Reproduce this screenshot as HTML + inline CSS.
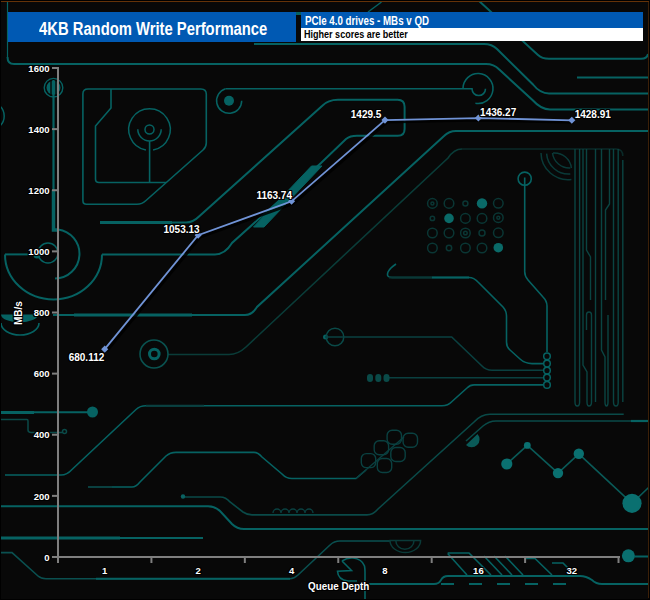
<!DOCTYPE html>
<html><head><meta charset="utf-8">
<style>
html,body{margin:0;padding:0;}
body{width:650px;height:600px;overflow:hidden;background:#080808;position:relative;font-family:"Liberation Sans",sans-serif;}
.abs{position:absolute;}
svg{position:absolute;left:0;top:0;}
.yl{position:absolute;right:600.5px;font-size:9.5px;font-weight:bold;color:#fff;text-shadow:1px 0 #000,-1px 0 #000,0 1px #000,0 -1px #000,1px 1px #000,-1px -1px #000,1px -1px #000,-1px 1px #000;line-height:12px}
.xl{position:absolute;top:564.5px;width:40px;text-align:center;font-size:9.5px;font-weight:bold;color:#fff;text-shadow:1px 0 #000,-1px 0 #000,0 1px #000,0 -1px #000,1px 1px #000,-1px -1px #000,1px -1px #000,-1px 1px #000;line-height:12px}
.dl{position:absolute;font-size:10px;font-weight:bold;color:#fff;white-space:nowrap;text-shadow:1px 0 #000,-1px 0 #000,0 1px #000,0 -1px #000,1px 1px #000,-1px -1px #000,1px -1px #000,-1px 1px #000;line-height:12px}
.t{position:absolute;white-space:nowrap;font-weight:bold;transform-origin:0 0;}
</style></head><body>
<svg width="650" height="600" viewBox="0 0 650 600">
<g fill="none" stroke="#066262" stroke-width="2">
 <!-- title frame -->
 <path d="M7.5,2 V57" stroke-width="1.2"/>
 <path d="M7.5,57 Q7.5,64 14,64 H486 Q494,64 499,69.3 L533,100.5 Q541,109.4 550,109.4 H648"/>
 <path d="M254,44 H484 Q492,44 497,49 L533,84.5 Q540,93.4 549,93.4 H648"/>
 <path d="M296,12 H301 V15 H296 Z" fill="#066262" stroke="none"/>
 <path d="M368,12 L381.5,2" stroke-width="1.5"/>
 <path d="M478,0 L538,55 Q542,58.8 549,58.8 H641 Q647,58.8 648,54"/>
 <path d="M577,77.4 H648"/>
 <!-- left circle + vertical -->
 <circle cx="53.5" cy="87.7" r="9.3" stroke-width="1.4"/>
 <circle cx="53.5" cy="87.7" r="7" fill="#066262" stroke="none"/>
 <path d="M51,80 V96 M56,80 V96" stroke="#080808" stroke-width="1.4"/>
 <path d="M53.5,80 V190" stroke-width="2.2"/>
 <path d="M53.5,190 V230 H58" stroke-width="3.5"/>
 <path d="M0,106 A14,14 0 0 1 0,126" stroke-width="1.5"/>
 <!-- big rect -->
 <path d="M82.9,94 Q82.9,89 88,89 H201 Q206.3,89 206.3,94.3 V143 Q206.3,147 203,150 L146,200.5 Q142,204.3 137,204.3 H86.5 Q82.9,204.3 82.9,200.5 Z" stroke-width="1.6"/>
 <path d="M111,89 V108 L95.5,126 V179 Q95.5,182.5 99,182.5 H166" stroke-width="1.6"/>
 <path d="M149.6,141 V182.6" stroke-width="1.6"/>
 <circle cx="149.5" cy="129.5" r="4.5" stroke-width="1.5"/>
 <path d="M137.8,129.3 A11.7,11.7 0 0 0 161.2,129.3" stroke-width="1.5"/>
 <path d="M145.9,149.9 A20.75,20.75 0 1 1 153.1,149.9" stroke-width="1.5"/>
 <!-- small circle right -->
 <path d="M225.5,88.8 A12.55,12.55 0 1 0 241.7,100.8" stroke-width="1.5"/>
 <circle cx="229" cy="100.8" r="5" fill="#066262" stroke="none"/>
 <path d="M225.5,88.8 H472 A6.5,6.5 0 0 0 485.5,88.8" stroke-width="1.6"/>
 <path d="M463,88.5 A15,15 0 1 1 475.4,103.3" stroke-width="1.6"/>
 <!-- 1429.5 U path -->
 <path d="M100,222.5 H186 Q193,222.5 199,216.5 L322,106 Q328,99.8 338,99.8 H397.6 Q404.6,99.8 404.6,106.8 V129 Q404.6,135.8 397.8,135.8 H357 Q350,135.8 346,139 L321,163 L232,243 Q225,254.4 215,254.4 H102"/>
 <path d="M100,222.5 H172" stroke-width="3"/>
 <path d="M253.5,227 L264,227 L322,166 L311.5,166 Z" fill="#066262" stroke="#066262" stroke-width="1" stroke-linejoin="round"/>
 <!-- diag 3,4 -->
 <path d="M53,315 H245 Q252,315 257,307 L444,136 Q449,131 456,131 H648"/>
 <path d="M74,315 H192" stroke-width="3"/>
 <path d="M168,354.5 H229 Q238,354.5 246,347 L448,158 Q454,149 462,149" stroke="#0a3c38" stroke-width="1.6"/>
 <path d="M462,149 H616 Q622.8,149 622.8,156" stroke="#0a2a28" stroke-width="1.6"/>
 <circle cx="154" cy="354" r="14" stroke="#0a5250" stroke-width="1.6"/>
 <circle cx="154.3" cy="354" r="4.8" stroke-width="3"/>
 <!-- big semicircle left -->
 <path d="M5,254.4 A48.5,45 0 0 0 102,254.4" />
 <path d="M5,254.4 H32" />
 <circle cx="48" cy="253" r="10" stroke-width="1.5"/>
 <circle cx="37" cy="255" r="3.5" fill="#066262" stroke="none"/>
 <path d="M58,229.5 A24.6,24.6 0 0 1 55,278.5" stroke-width="2"/>
 <!-- MB/s half disc -->
 <path d="M1,314.4 H38 A18.5,8 0 0 1 1,314.4 Z" fill="#066262" stroke="none"/>
 <path d="M1,323 A19,12 0 0 0 39,323" stroke-width="1.6"/>
 <!-- ring + vertical right -->
 <circle cx="524.7" cy="178.7" r="6.6" stroke-width="1.6"/>
 <path d="M524.7,177.5 V271 Q524.5,276 528,280 L543,297 Q547,301 547,306 V352" stroke-width="1.6"/>
 <!-- middle right lines -->
 <path d="M396,264 Q390,268 388,272 Q386,277.5 392,277.5 H469 Q474,277.5 478,282 L503,307 Q506.5,311 506.5,316 V342 Q506.5,347 510,350 L520,359 Q525,363.6 532,363.6 H543.5" stroke-width="1.6"/>
 <path d="M389,277.5 H432" stroke="#0a3836" stroke-width="2.2"/>
 <path d="M432,277.5 H469" stroke-width="2.2"/>
 <circle cx="325.5" cy="337" r="2.5" fill="#066262" stroke="none"/>
 <circle cx="335" cy="337" r="8.8" stroke="#0a4a48" stroke-width="1.5"/>
 <path d="M325,337 H451.7 L482,366 Q486,370.2 492,370.2 H543.5" stroke="#0a4040" stroke-width="1.6"/>
 <path d="M388,377.8 H543.5" stroke="#0a4040" stroke-width="1.6"/>
 <g fill="#0a4a48" stroke="none"><rect x="367" y="374" width="6" height="8" rx="3"/><rect x="375.3" y="374" width="6" height="8" rx="3"/><rect x="383.5" y="374" width="6" height="8" rx="3"/></g>
 <g stroke-width="1.5"><circle cx="547" cy="356.2" r="3.3"/><circle cx="547" cy="363.6" r="3.3"/><circle cx="547" cy="370.6" r="3.3"/><circle cx="547" cy="377.6" r="3.3"/><circle cx="547" cy="384.9" r="3.3"/></g>
 <path d="M543.7,384.9 H474 Q470,384.9 467,388 L452,401.5 Q448,405.8 442,405.8 H146 Q140,405.8 136,409.5 L72,469.5 Q67,475 61,475 H5" stroke-width="1.6"/>
 <path d="M146,405.8 H204" stroke="#0a4040"/>
 <!-- dot grid -->
 <g stroke="#0a3634" stroke-width="1.5">
  <circle cx="432.4" cy="203.4" r="4.8"/><circle cx="432.4" cy="203.4" r="1.5"/><circle cx="449" cy="203.4" r="4.8"/><circle cx="465.4" cy="203.4" r="2.5"/><circle cx="498.3" cy="203.3" r="4.8"/>
  <circle cx="432.4" cy="218.4" r="2.2"/><circle cx="465.4" cy="218.4" r="4.8"/><circle cx="482" cy="218.4" r="4.8"/><circle cx="498.3" cy="217.7" r="4.8"/><circle cx="498.3" cy="217.7" r="1.5"/>
  <circle cx="432.4" cy="233" r="4.8"/><circle cx="449" cy="233" r="4.8"/><circle cx="465.4" cy="233" r="4.8"/><circle cx="465.4" cy="233" r="1.8"/><circle cx="482" cy="233" r="3"/><circle cx="498.3" cy="232.8" r="4.8"/>
  <circle cx="432.4" cy="248" r="4.8"/><circle cx="449" cy="248" r="2.7"/><circle cx="465.4" cy="248" r="4.8"/><circle cx="482" cy="248" r="4.8"/>
 </g>
 <g fill="#0a6a68" stroke="none"><circle cx="482" cy="203.4" r="5.2"/><circle cx="449" cy="218.4" r="4.8"/><circle cx="498.3" cy="247.7" r="4.8"/></g>
 <!-- eye arcs -->
 <g stroke="#0a3a38" stroke-width="1.5"><path d="M541,153 A27,27 0 0 0 571.4,179.4"/><path d="M546.6,153.6 A22,22 0 0 0 570.3,174"/><path d="M552.5,153 A17,17 0 0 0 570.3,168"/><path d="M553,153 A17,17 0 0 1 571.4,168"/></g>
 <!-- vertical bus -->
 <g stroke="#0a4442" stroke-width="1.4">
  <path d="M575,149 V402 Q575,406 577.3,406 Q579.6,406 579.6,402 V149"/>
  <path d="M583,149 V365 L587,372 V402 Q587,406 589,406 Q591.5,406 591.5,402 V315 Q591.5,312 589,312 Q586.5,312 586.5,315 V330"/>
  <path d="M586.5,149 V250 L590.5,257 V300"/>
  <path d="M595.5,149 V402"/>
  <path d="M601.5,149 V350 L605,357 V402 Q605,406 606.5,406 Q608,406 608,402 V315"/>
  <path d="M609.5,149 V204 L605.5,210 V300"/>
  <path d="M613.5,149 V402 Q613.5,406 616,406 Q618.2,406 618.2,402 V149"/>
  <path d="M622.8,160 V402"/>
 </g>
 <!-- lower left lines -->
 <path d="M1,412.3 H88" stroke-width="2"/>
 <path d="M1,412.5 H34" stroke-width="3"/>
 <circle cx="92.5" cy="412" r="5.5" fill="#066262" stroke="none"/>
 <path d="M1,419.4 H27 Q28,419.4 28,421 V430 Q28,432.4 31,432.4 H62" stroke="#0a4a48" stroke-width="1.5"/>
 <circle cx="64.5" cy="431.5" r="2" stroke="#0a4a48" stroke-width="1.5"/>
 <path d="M88,487 H132 Q136,487 140,482 L166,456 Q170,452.4 176,452.4 H254 Q258,452.4 262,457 L282,474 Q286,478.5 292,478.5 H356 L366,470" stroke-width="1.6"/>
 <path d="M88,487 H112" stroke="#0a4040"/>
 <!-- pill cluster -->
 <g stroke="#0a4040" stroke-width="1.4">
  <rect x="361.3" y="453.6" width="14.4" height="14" rx="5"/>
  <rect x="374.2" y="440.7" width="14.4" height="14" rx="5"/>
  <rect x="387.1" y="430.2" width="14.4" height="14" rx="5"/>
  <rect x="377.3" y="458.5" width="14.4" height="14" rx="5"/>
  <rect x="390.8" y="447.5" width="14.4" height="14" rx="5"/>
  <rect x="403.1" y="433.3" width="14.4" height="14" rx="5"/>
 </g>
  <path d="M466,441 L483,426 Q489,421 496,421 H648" stroke="#0a4a48" stroke-width="1.6"/>
 <path d="M356,478.5 L404,437" stroke="#0a4040" stroke-width="1.4"/>
 <path d="M631,421 H648" stroke-width="2.2"/>
 <path d="M477.5,434 A7.96,7.96 0 0 1 466,445 Z" fill="#0a5a58" stroke="none"/>
 <!-- zigzag dots -->
 <path d="M506.8,464 L527.3,445.4 L558,473.1 L578.8,453.8 L632,503.3 L648.6,487.5" stroke="#0a5a58" stroke-width="1.6"/>
 <g fill="#0a7070" stroke="none"><circle cx="506.8" cy="464" r="5.6"/><circle cx="527.3" cy="445.4" r="3.4"/><circle cx="558" cy="473.1" r="5.2"/><circle cx="578.8" cy="453.8" r="5.2"/><circle cx="632" cy="503.3" r="9.6"/><circle cx="628.4" cy="555.8" r="6.5"/></g>
 <path d="M634,556.5 H648" stroke-width="2"/>
 <!-- bottom lines -->
 <path d="M1,506.3 H208 Q215,506.3 220,511 L232,524 Q237,529 244,529 H648"/>
 <path d="M183,497 H220 Q226,497 230,502 L243,512 Q247,514.9 252,514.9 H367 Q373,514.9 378,509 L474,422 Q481,414.2 490,414.2 H623.7" stroke="#0a4a48" stroke-width="1.6"/>
 <circle cx="183" cy="496.5" r="2.2" fill="#0a6262" stroke="none"/>
 <path d="M1,538 H203" stroke-width="1.8"/>
 <path d="M1,538 H120" stroke-width="3"/>
 <path d="M1,552.6 H12 L38,576 Q41,578.7 46,578.7 H290 Q294,578.7 298,575 L330,545 Q334,541 340,541 H390" stroke="#0a5050" stroke-width="1.6"/>
 <path d="M96,578.7 H290" stroke-width="2"/>
 <path d="M273,513 a4,4 0 0 1 8,0 a4,4 0 0 1 8,0 a4,4 0 0 1 8,0 a4,4 0 0 1 8,0 a4,4 0 0 1 8,0" stroke="#0a4040" stroke-width="1.3"/>
 <path d="M390,540.5 A15.3,12 0 0 0 420.6,540.5 Z" stroke="#0a3a38" stroke-width="1.5"/>
 <path d="M395.8,540.5 A9.1,8.8 0 0 0 414,540.5" stroke="#0a3a38" stroke-width="1.5"/>
 <path d="M342,561 Q347,557.5 353,558 Q362,559 364.5,566 Q365,569 365,572 V600 M342,561 L351.5,570.5 L337.5,571.3 Q338,580 348,581 H357" stroke-width="1.6"/>
 <path d="M369,584 H434 Q439,584 441,580 Q443,576 448,576 H580 Q586,576 592,580 Q596,584 602,584 H648" stroke-width="1.8"/>
  <path d="M441,584 H580" stroke-dasharray="13 15" stroke-width="1.8"/>
 <!-- slanted comb -->
 <g stroke-width="1.6">
  <path d="M447.7,553.5 L467,575"/>
  <path d="M447.7,553 H469 L491,575"/>
  <path d="M484,556 L502,575"/>
  <path d="M494,556 L512,575"/>
  <path d="M505,556 L523,575"/>
  <path d="M526,558.5 H535 L552,575"/>
  <path d="M552,563 H563 L575,575"/>
 </g>

</g>

 <g stroke="#7f7f7f" stroke-width="2" fill="none">
  <line x1="58" y1="67" x2="58" y2="563"/>
  <line x1="57" y1="557" x2="620" y2="557"/>
  <line x1="52" y1="68.00" x2="58" y2="68.00"/><line x1="52" y1="129.12" x2="58" y2="129.12"/><line x1="52" y1="190.25" x2="58" y2="190.25"/><line x1="52" y1="251.38" x2="58" y2="251.38"/><line x1="52" y1="312.50" x2="58" y2="312.50"/><line x1="52" y1="373.62" x2="58" y2="373.62"/><line x1="52" y1="434.75" x2="58" y2="434.75"/><line x1="52" y1="495.88" x2="58" y2="495.88"/><line x1="52" y1="557.00" x2="58" y2="557.00"/><line x1="151.42" y1="557" x2="151.42" y2="563"/><line x1="244.84" y1="557" x2="244.84" y2="563"/><line x1="338.26" y1="557" x2="338.26" y2="563"/><line x1="431.68" y1="557" x2="431.68" y2="563"/><line x1="525.10" y1="557" x2="525.10" y2="563"/><line x1="618.52" y1="557" x2="618.52" y2="563"/>
 </g>
 <polyline points="106.71,351.14 200.13,237.14 293.55,203.33 386.97,122.11 480.39,120.04 573.81,122.29" fill="none" stroke="#000" stroke-width="3" stroke-opacity="0.85"/>
 <polyline points="104.71,349.14 198.13,235.14 291.55,201.33 384.97,120.11 478.39,118.04 571.81,120.29" fill="none" stroke="#7093d6" stroke-width="1.8"/>
 <g fill="#7093d6"><rect x="102.21" y="346.64" width="5" height="5" transform="rotate(45 104.71 349.14)"/><rect x="195.63" y="232.64" width="5" height="5" transform="rotate(45 198.13 235.14)"/><rect x="289.05" y="198.83" width="5" height="5" transform="rotate(45 291.55 201.33)"/><rect x="382.47" y="117.61" width="5" height="5" transform="rotate(45 384.97 120.11)"/><rect x="475.89" y="115.54" width="5" height="5" transform="rotate(45 478.39 118.04)"/><rect x="569.31" y="117.79" width="5" height="5" transform="rotate(45 571.81 120.29)"/></g>
 <path d="M0,1.5 H649" fill="none" stroke="#643208" stroke-width="1"/>
 <path d="M648.5,2 V598" fill="none" stroke="#3c2008" stroke-width="1"/>
 <path d="M0.5,0 V600 M0,599.5 H650 M649.5,0 V600 M0,0.5 H650" fill="none" stroke="#000" stroke-width="1"/>
</svg>
<div class="abs" style="left:8px;top:12px;width:288px;height:30px;background:#0059b3"></div>
<div class="abs" style="left:301px;top:12px;width:342px;height:16px;background:#0059b3"></div>
<div class="abs" style="left:301px;top:28px;width:342px;height:13px;background:#fff"></div>
<div class="t" style="left:38.5px;top:19px;font-size:18px;color:#fff;transform:scaleX(0.822)">4KB Random Write Performance</div>
<div class="t" style="left:304.5px;top:14px;font-size:12px;color:#fff;transform:scaleX(0.812)">PCIe 4.0 drives - MBs v QD</div>
<div class="t" style="left:304px;top:27.6px;font-size:10.5px;color:#000;transform:scaleX(0.86)">Higher scores are better</div>
<div class="yl" style="top:62.7px">1600</div>
<div class="yl" style="top:123.8px">1400</div>
<div class="yl" style="top:184.9px">1200</div>
<div class="yl" style="top:246.1px">1000</div>
<div class="yl" style="top:307.2px">800</div>
<div class="yl" style="top:368.3px">600</div>
<div class="yl" style="top:429.4px">400</div>
<div class="yl" style="top:490.6px">200</div>
<div class="yl" style="top:551.7px">0</div>
<div class="xl" style="left:84.7px">1</div>
<div class="xl" style="left:178.1px">2</div>
<div class="xl" style="left:271.6px">4</div>
<div class="xl" style="left:365.0px">8</div>
<div class="xl" style="left:458.4px">16</div>
<div class="xl" style="left:551.8px">32</div>
<div class="dl" style="left:68.7px;top:352.0px">680.112</div>
<div class="dl" style="left:163.5px;top:224.3px">1053.13</div>
<div class="dl" style="left:256.4px;top:190.1px">1163.74</div>
<div class="dl" style="left:350.8px;top:109.3px">1429.5</div>
<div class="dl" style="left:480.1px;top:106.5px">1436.27</div>
<div class="dl" style="left:574.7px;top:109.3px">1428.91</div>
<div class="t" style="left:307.8px;top:581px;font-size:10px;color:#fff;text-shadow:1px 0 #000,-1px 0 #000,0 1px #000,0 -1px #000,1px 1px #000,-1px -1px #000,1px -1px #000,-1px 1px #000;transform:scaleX(0.985)">Queue Depth</div>
<div class="t" style="left:13px;top:324.5px;font-size:10px;color:#fff;transform:rotate(-90deg);text-shadow:1px 0 #000,-1px 0 #000,0 1px #000,0 -1px #000,1px 1px #000,-1px -1px #000,1px -1px #000,-1px 1px #000">MB/s</div>
</body></html>
